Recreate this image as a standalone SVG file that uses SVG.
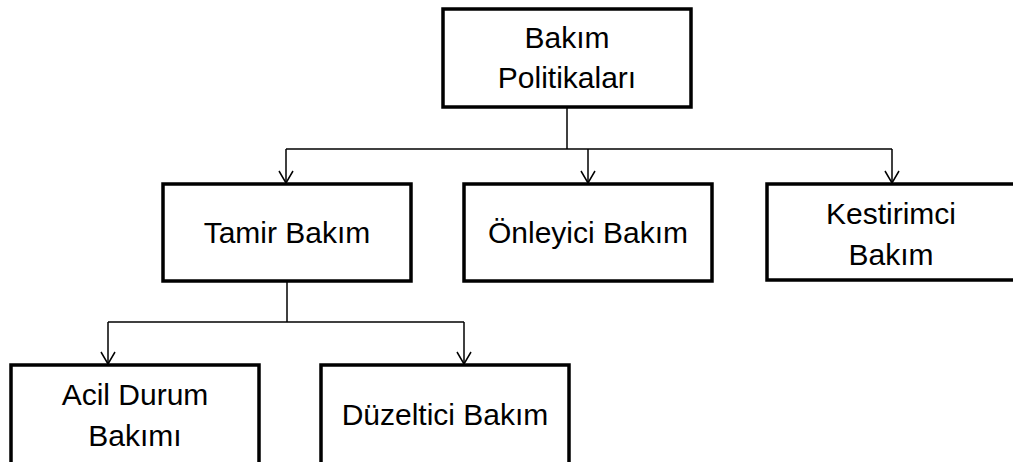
<svg xmlns="http://www.w3.org/2000/svg" width="1013" height="462" viewBox="0 0 1013 462">
<style>
.box{fill:#fff;stroke:#000;stroke-width:3.5}
.t{font-family:"Liberation Sans",Arial,sans-serif;font-size:30px;fill:#000;text-anchor:middle}
.c{fill:none;stroke:#000;stroke-width:1.5}
</style>
<defs>
<marker id="arr" markerWidth="16" markerHeight="16" refX="14" refY="8" orient="auto" markerUnits="userSpaceOnUse">
<path d="M2,1 L14,8 L2,15" fill="none" stroke="#000" stroke-width="1.5"/>
</marker>
</defs>
<rect width="1013" height="462" fill="#fff"/>
<g id="connectors">
<path class="c" d="M567,107 V149"/>
<path class="c" d="M286,149 H892"/>
<path class="c" d="M286,149 V183" marker-end="url(#arr)"/>
<path class="c" d="M588,149 V183" marker-end="url(#arr)"/>
<path class="c" d="M892,149 V183" marker-end="url(#arr)"/>
<path class="c" d="M287,281 V322"/>
<path class="c" d="M108,322 H464"/>
<path class="c" d="M108,322 V364" marker-end="url(#arr)"/>
<path class="c" d="M464,322 V364" marker-end="url(#arr)"/>
</g>
<g id="bakim-politikalari">
<rect class="box" x="443" y="9" width="248" height="98"/>
<text class="t" x="567" y="48">Bakım</text>
<text class="t" x="567" y="88">Politikaları</text>
</g>
<g id="tamir-bakim">
<rect class="box" x="163" y="184" width="248" height="97"/>
<text class="t" x="287" y="243">Tamir Bakım</text>
</g>
<g id="onleyici-bakim">
<rect class="box" x="464" y="184" width="248" height="97"/>
<text class="t" x="588" y="243">Önleyici Bakım</text>
</g>
<g id="kestirimci-bakim">
<rect class="box" x="767" y="184" width="250" height="96"/>
<text class="t" x="891" y="224">Kestirimci</text>
<text class="t" x="891" y="265">Bakım</text>
</g>
<g id="acil-durum-bakimi">
<rect class="box" x="11" y="365" width="248" height="100"/>
<text class="t" x="135" y="405">Acil Durum</text>
<text class="t" x="135" y="446">Bakımı</text>
</g>
<g id="duzeltici-bakim">
<rect class="box" x="321" y="365" width="248" height="100"/>
<text class="t" x="445" y="425">Düzeltici Bakım</text>
</g>
</svg>
